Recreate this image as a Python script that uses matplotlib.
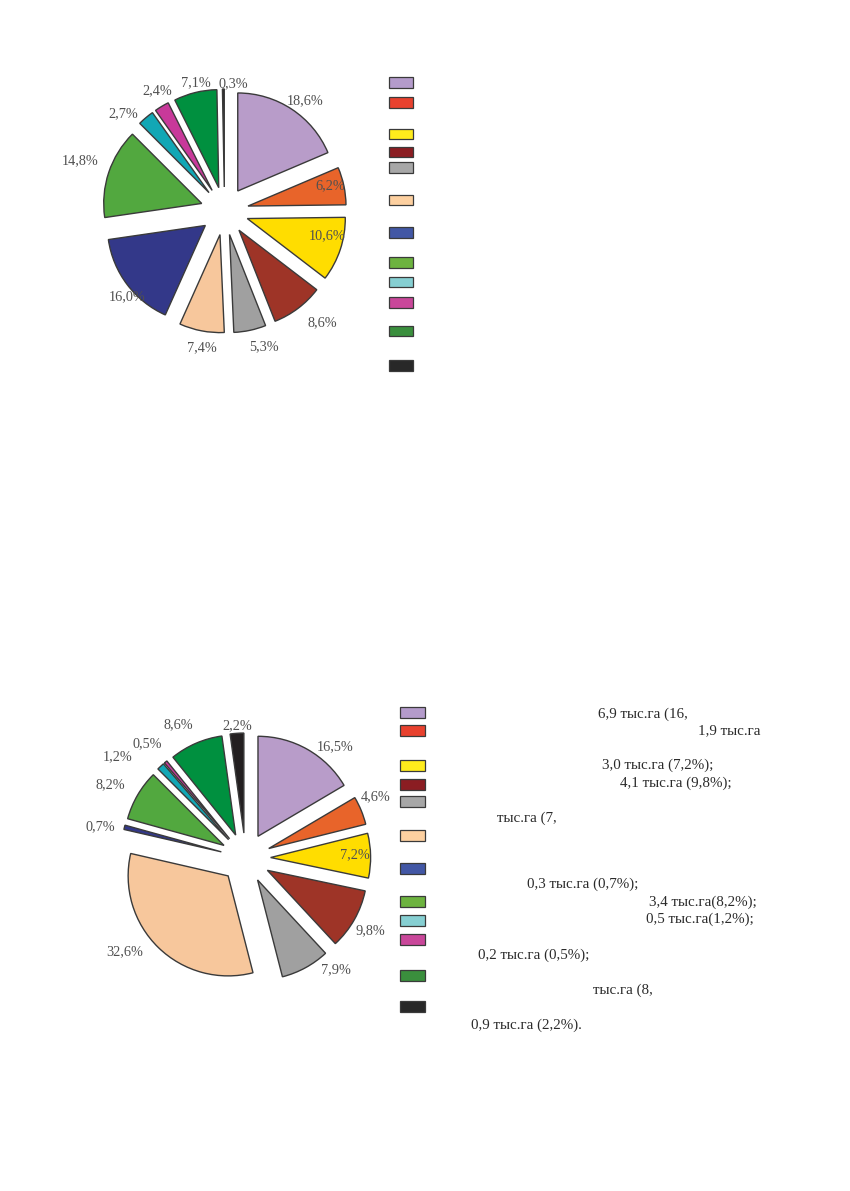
import matplotlib
matplotlib.use("Agg")
import matplotlib.pyplot as plt
from matplotlib.patches import Rectangle
import numpy as np

# ---------------- data ----------------
shares_1 = [18.6, 6.2, 10.6, 8.6, 5.3, 7.4, 16.0, 14.8, 2.7, 2.4, 7.1, 0.3]
shares_2 = [16.5, 4.6, 7.2, 9.8, 7.9, 32.6, 0.7, 8.2, 1.2, 0.5, 8.6, 2.2]

slice_colors = ["#B89CC9", "#E8642A", "#FFDD00", "#9E3427", "#A0A0A0", "#F7C79C",
                "#333889", "#52A83F", "#12A7B5", "#C8399A", "#00903F", "#231F20"]
legend_colors = ["#B49BCB", "#E8412E", "#FFEC1C", "#8B1D22", "#A7A7A7", "#FDD0A0",
                 "#4257A5", "#6DB33F", "#86CFD2", "#C9479A", "#3A8F3D", "#282828"]

legend_text_2 = ["6,9 тыс.га (16,", "1,9 тыс.га", "3,0 тыс.га (7,2%);",
                 "4,1 тыс.га (9,8%);", "тыс.га (7,", "0,3 тыс.га (0,7%);",
                 "3,4 тыс.га(8,2%);", "0,5 тыс.га(1,2%);", "0,2 тыс.га (0,5%);",
                 "тыс.га (8,", "0,9 тыс.га (2,2%)."]

# ---------------- layout (pixels) ----------------
W, H = 850, 1191
FONT = ["Liberation Serif", "DejaVu Serif"]
LABEL_COLOR = "#505050"

# per-label placement: (radius factor from pie origin, angular nudge in degrees)
label_pos_1 = [(1.39, -2.7), (1.11, 1.4), (1.08, 4.7), (1.51, 4.2), (1.44, 4.1),
               (1.41, 1.4), (1.33, 4.3), (1.56, -0.7), (1.43, 5.9), (1.41, -1.6),
               (1.34, -1.3), (1.30, -4.3)]
label_pos_2 = [(1.43, -8.9), (1.44, 2.8), (1.09, 0.5), (1.44, -0.6), (1.43, 10.3),
               (1.53, -7.8), (1.49, 2.2), (1.54, 1.9), (1.63, 8.8), (1.51, 0.8),
               (1.49, 3.5), (1.33, -0.3)]

legend_y_1 = [82.3, 102.3, 134, 152, 167.3, 200, 232.7, 262.3, 282, 302.7, 331, 365.7]
legend_y_2 = [712.3, 730.7, 765.7, 784, 801.7, 835, 868, 901.7, 920.7, 939.7, 975, 1006.7]
legend_text_xy_2 = [(598.3, 714), (698.3, 731), (602.3, 765.7), (620, 783.3),
                    (497.3, 818.3), (527.3, 884), (649, 902), (645.7, 919.5),
                    (478.3, 955.7), (593.3, 990), (470.7, 1025)]

fig = plt.figure(figsize=(W / 100, H / 100), dpi=100)
fig.patch.set_facecolor("white")


def pct(v):
    return f"{v:.1f}".replace(".", ",") + "%"


def draw_pie(cx, cy, r, shares, explode, label_pos):
    half = 1.6 * r
    ax = fig.add_axes([(cx - half) / W, (H - cy - half) / H, 2 * half / W, 2 * half / H])
    wedges, _ = ax.pie(shares, colors=slice_colors, startangle=90, counterclock=False,
                       explode=[explode] * len(shares),
                       wedgeprops=dict(edgecolor="#3a3a3a", linewidth=1.0))
    ax.set_xlim(-1.6, 1.6)
    ax.set_ylim(-1.6, 1.6)
    ax.set_aspect("equal")
    ax.axis("off")
    for w, v, (rho, dth) in zip(wedges, shares, label_pos):
        mid = np.deg2rad((w.theta1 + w.theta2) / 2 + dth)
        ax.text(rho * np.cos(mid), rho * np.sin(mid), pct(v), ha="center", va="center",
                fontsize=10.3, family=FONT, color=LABEL_COLOR)
    return ax


draw_pie(224.5, 211, 98, shares_1, 0.245, label_pos_1)
draw_pie(245.6, 858, 100, shares_2, 0.25, label_pos_2)

# overlay for legends, in pixel coordinates
ov = fig.add_axes([0, 0, 1, 1])
ov.set_xlim(0, W)
ov.set_ylim(H, 0)
ov.axis("off")

for y, c in zip(legend_y_1, legend_colors):
    ov.add_patch(Rectangle((389.5, y - 5.3), 24, 10.6, facecolor=c, edgecolor="#3a3a3a", lw=0.9))
for y, c in zip(legend_y_2, legend_colors):
    ov.add_patch(Rectangle((400, y - 5.5), 25.5, 11, facecolor=c, edgecolor="#3a3a3a", lw=0.9))
for (x, y), t in zip(legend_text_xy_2, legend_text_2):
    ov.text(x, y, t, ha="left", va="center", fontsize=10.8, family=FONT, color="#2a2a2a")

fig.savefig("out.png", dpi=100, facecolor="white")
